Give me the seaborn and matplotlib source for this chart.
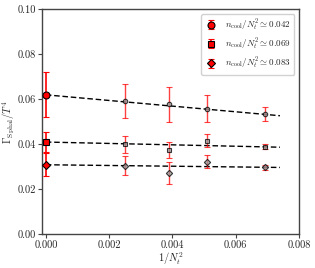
import numpy as np
import pandas as pd
import matplotlib
matplotlib.use('Agg')
import matplotlib.pyplot as plt
import seaborn as sns

# finite lattice points, 1/Nt^2 for Nt = 20, 16, 14, 12
inv_nt2 = [0.0025, 0.0039, 0.0051, 0.00694]

labels = [r'$n_{\rm cool}/N_t^2 \simeq 0.042$',
          r'$n_{\rm cool}/N_t^2 \simeq 0.069$',
          r'$n_{\rm cool}/N_t^2 \simeq 0.083$']
markers = ['o', 's', 'D']

# Gamma_sphal / T^4 at finite Nt
gamma_042 = [0.0592, 0.0577, 0.0558, 0.0535]
err_042 = [0.0077, 0.0079, 0.0059, 0.0031]
gamma_069 = [0.0401, 0.0375, 0.0416, 0.0389]
err_069 = [0.0038, 0.0037, 0.0028, 0.0012]
gamma_083 = [0.0305, 0.0273, 0.0323, 0.0298]
err_083 = [0.0042, 0.0048, 0.0030, 0.0012]

# continuum extrapolations
cont_val = [0.0620, 0.0410, 0.0309]
cont_err = [0.0100, 0.0045, 0.0052]

# linear fits, evaluated at the end points
fit_x = [0.0, 0.0074]
fit_042 = [0.0620, 0.0527]
fit_069 = [0.0410, 0.0387]
fit_083 = [0.0309, 0.0297]

series = [(gamma_042, err_042, fit_042),
          (gamma_069, err_069, fit_069),
          (gamma_083, err_083, fit_083)]

sns.set_style('ticks')
plt.rcParams['font.family'] = 'serif'
plt.rcParams['font.serif'] = ['cmr10', 'DejaVu Serif']
plt.rcParams['mathtext.fontset'] = 'cm'
plt.rcParams['axes.formatter.use_mathtext'] = True

fig = plt.figure(figsize=(3.15, 2.68), dpi=100)
ax = fig.add_axes([0.133, 0.126, 0.816, 0.839])

for i, (vals, errs, fit) in enumerate(series):
    df_fit = pd.DataFrame({'x': fit_x, 'y': fit})
    sns.lineplot(data=df_fit, x='x', y='y', ax=ax, color='black',
                 linestyle=(0, (4, 2)), linewidth=1.0, zorder=2)
    ax.errorbar(inv_nt2, vals, yerr=errs, fmt=markers[i], color='red',
                ecolor='red', alpha=0.75, elinewidth=1.0, capsize=2.5,
                markersize=3.2, markerfacecolor='#9a9a9a',
                markeredgecolor='black', markeredgewidth=0.8, zorder=3)
    ax.errorbar([0.0], [cont_val[i]], yerr=[cont_err[i]], fmt=markers[i],
                color='red', ecolor='red', elinewidth=1.2, capsize=2.5,
                markersize=5 if markers[i] != 'D' else 4.5,
                markerfacecolor='red', markeredgecolor='black',
                markeredgewidth=0.8, label=labels[i], zorder=4)

ax.set_xlim(-0.000125, 0.008)
ax.set_ylim(0.0, 0.1)
ax.set_xticks([0.0, 0.002, 0.004, 0.006, 0.008])
ax.set_yticks([0.0, 0.02, 0.04, 0.06, 0.08, 0.10])
ax.set_xticklabels(['0.000', '0.002', '0.004', '0.006', '0.008'])
ax.set_yticklabels(['0.00', '0.02', '0.04', '0.06', '0.08', '0.10'])
ax.set_xlabel(r'$1/N_t^2$', fontsize=7.5, labelpad=0)
ax.set_ylabel(r'$\Gamma_{\rm Sphal}/T^4$', fontsize=7.5, labelpad=0)
ax.tick_params(labelsize=7.5, length=3, width=0.8, color='#444444', pad=1.5)
for sp in ax.spines.values():
    sp.set_visible(True)
    sp.set_color('#444444')
    sp.set_linewidth(1.0)

ax.legend(loc='upper right', fontsize=6.5, frameon=True, framealpha=0.9,
          edgecolor='#cccccc', handletextpad=0.8, borderpad=0.4,
          labelspacing=0.4, handlelength=1.5)

fig.savefig('out.png', dpi=100)
